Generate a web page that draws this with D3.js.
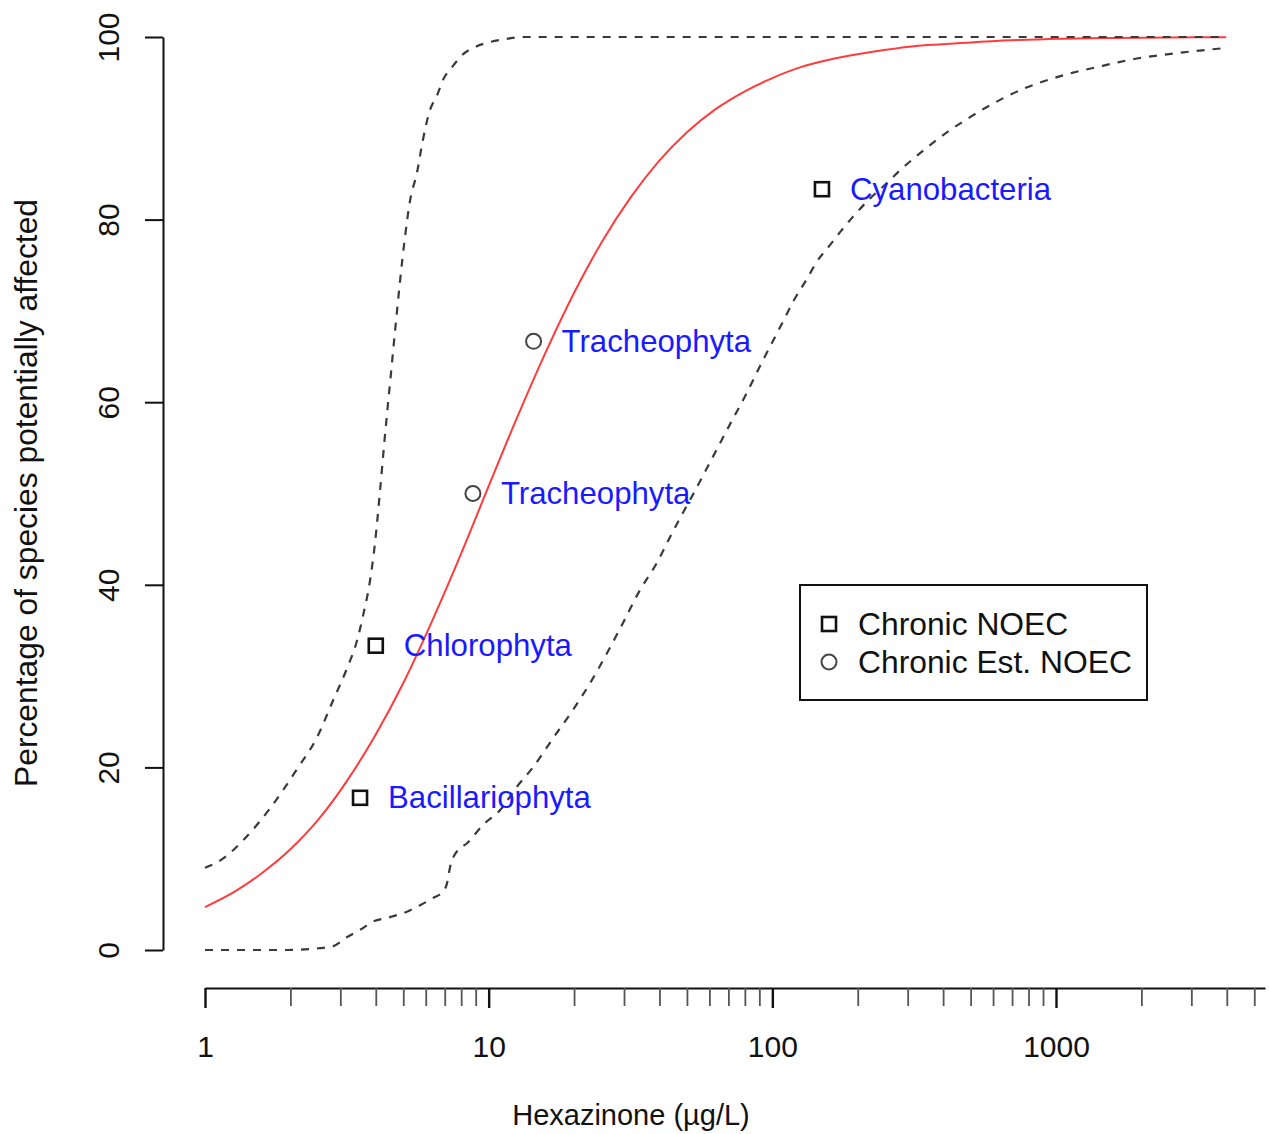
<!DOCTYPE html>
<html>
<head>
<meta charset="utf-8">
<script src="https://cdn.jsdelivr.net/npm/d3@7"></script>
<style>
  html, body { margin: 0; padding: 0; background: #fff; }
  svg { display: block; font-family: "Liberation Sans", Arial, sans-serif; }
</style>
</head>
<body>
<svg id="chart" width="1269" height="1134"></svg>
<script>
// ---- Data ----
// Species points: concentration (µg/L), percent affected, label, type
const pointX      = [3.52, 4.0, 8.8, 14.4, 149.6];
const pointY      = [16.67, 33.33, 50.0, 66.67, 83.33];
const pointLabels = ["Bacillariophyta", "Chlorophyta", "Tracheophyta", "Tracheophyta", "Cyanobacteria"];
const pointTypes  = ["Chronic NOEC", "Chronic NOEC", "Chronic Est. NOEC", "Chronic Est. NOEC", "Chronic NOEC"];

// Fitted SSD (red)
const fitX = [1, 1.259, 1.585, 1.995, 2.512, 3.162, 3.981, 5.012, 6.310, 7.943, 10, 12.59, 15.85, 19.95, 25.12, 31.62, 39.81, 50.12, 63.10, 79.43, 100, 125.9, 158.5, 199.5, 251.2, 316.2, 398.1, 501.2, 631.0, 794.3, 1000, 1585, 2512, 3981];
const fitY = [4.7, 6.3, 8.4, 11.0, 14.3, 18.5, 23.5, 29.3, 36.0, 43.2, 50.8, 58.3, 65.4, 71.9, 77.6, 82.4, 86.4, 89.6, 92.1, 94.0, 95.5, 96.7, 97.5, 98.1, 98.6, 99.0, 99.2, 99.4, 99.6, 99.7, 99.8, 99.9, 99.95, 99.97];

// Upper confidence limit (dashed)
const upperX = [1, 1.156, 1.361, 1.694, 2.109, 2.483, 2.825, 3.162, 3.436, 3.606, 3.819, 3.972, 4.140, 4.305, 4.487, 4.677, 4.864, 5.070, 5.284, 5.585, 5.861, 6.209, 6.577, 6.902, 7.430, 8.054, 8.954, 10.12, 11.59, 13.18, 3981];
const upperY = [9.0, 10.0, 12.0, 15.5, 19.8, 23.3, 27.3, 30.8, 33.9, 36.6, 40.5, 44.5, 50.3, 56.2, 62.0, 67.8, 73.1, 78.1, 82.1, 85.1, 88.7, 92.0, 93.6, 95.3, 96.7, 98.0, 98.9, 99.45, 99.8, 100, 100];

// Lower confidence limit (dashed)
const lowerX = [1, 1.327, 1.945, 2.541, 2.825, 3.162, 3.516, 3.908, 4.487, 5.152, 5.728, 6.368, 6.902, 7.129, 7.311, 7.727, 8.395, 9.550, 10.96, 12.59, 14.32, 16.87, 19.82, 22.75, 26.12, 29.72, 34.12, 39.17, 43.55, 48.42, 51.29, 60.26, 70.96, 79.98, 92.68, 100.5, 108.9, 118.3, 132.4, 143.6, 159.6, 173.0, 192.3, 220.8, 253.5, 281.8, 323.6, 368.1, 422.7, 485.3, 539.5, 599.8, 671.4, 763.8, 877.0, 1007, 1148, 1393, 1641, 1977, 2323, 2965, 3981];
const lowerY = [0, 0, 0, 0.2, 0.4, 1.4, 2.2, 3.1, 3.6, 4.2, 4.9, 5.7, 6.4, 7.3, 9.1, 10.8, 11.7, 13.7, 15.3, 17.9, 20.0, 23.2, 26.3, 29.2, 32.5, 35.8, 39.4, 42.4, 45.2, 47.9, 49.3, 53.4, 57.6, 60.6, 64.6, 66.7, 68.8, 71.0, 73.5, 75.4, 77.2, 78.6, 80.3, 82.3, 84.0, 85.4, 87.0, 88.4, 89.8, 91.0, 91.9, 92.7, 93.5, 94.3, 95.0, 95.6, 96.1, 96.7, 97.2, 97.7, 98.0, 98.4, 98.8];

// Axis ticks
const xMajorTicks = [1, 10, 100, 1000];
const xMinorTicks = [2,3,4,5,6,7,8,9, 20,30,40,50,60,70,80,90, 200,300,400,500,600,700,800,900, 2000,3000,4000,5000];
const yTicks = [0, 20, 40, 60, 80, 100];
const legendItems = ["Chronic NOEC", "Chronic Est. NOEC"];

const xTitle = "Hexazinone (\u00b5g/L)";
const yTitle = "Percentage of species potentially affected";

// ---- Drawing ----
const svg = d3.select("#chart");
const TICKFONT = 30;
const LABELFONT = 31.2;
const LEGENDFONT = 31.8;

const x = d3.scaleLog().domain([1, 1000]).range([205, 1056]);
const y = d3.scaleLinear().domain([0, 100]).range([950, 37]);
const xAxisScale = x.copy().domain([1, x.invert(1265)]).range([205, 1265]);

// Y axis
const yAxis = d3.axisLeft(y).tickValues(yTicks).tickSize(18).tickSizeOuter(0).tickFormat(d3.format("d"));
const gy = svg.append("g").attr("transform", "translate(163,0)").call(yAxis);
gy.select(".domain").attr("stroke", "#111").attr("stroke-width", 2);
gy.selectAll(".tick line").attr("stroke", "#111").attr("stroke-width", 2);
gy.selectAll(".tick text")
  .attr("x", null).attr("dy", null)
  .attr("transform", "translate(-55,0) rotate(-90)")
  .attr("text-anchor", "middle")
  .attr("dominant-baseline", "central")
  .attr("fill", "#111")
  .style("font-size", TICKFONT + "px")
  .style("font-family", "'Liberation Sans', Arial, sans-serif");

// X axis (minor ticks, then major ticks with labels)
const gxMinor = svg.append("g").attr("transform", "translate(0,988)")
  .call(d3.axisBottom(xAxisScale).tickValues(xMinorTicks).tickSize(18).tickSizeOuter(0).tickFormat(""));
gxMinor.select(".domain").attr("stroke", "#111").attr("stroke-width", 2);
gxMinor.selectAll(".tick line").attr("stroke", "#555").attr("stroke-width", 1.8);

const gxMajor = svg.append("g").attr("transform", "translate(0,988)")
  .call(d3.axisBottom(xAxisScale).tickValues(xMajorTicks).tickSize(20).tickSizeOuter(0).tickFormat(d3.format("d")));
gxMajor.select(".domain").remove();
gxMajor.selectAll(".tick line").attr("stroke", "#111").attr("stroke-width", 2.4);
gxMajor.selectAll(".tick text")
  .attr("y", 58).attr("dy", null)
  .attr("dominant-baseline", "central")
  .attr("fill", "#111")
  .style("font-size", TICKFONT + "px")
  .style("font-family", "'Liberation Sans', Arial, sans-serif");

// Axis titles
svg.append("text")
  .attr("x", 631).attr("y", 1115)
  .attr("text-anchor", "middle").attr("dominant-baseline", "central")
  .attr("fill", "#111").style("font-size", "29px")
  .text(xTitle);
svg.append("text")
  .attr("transform", "translate(26,493) rotate(-90)")
  .attr("text-anchor", "middle").attr("dominant-baseline", "central")
  .attr("fill", "#111").style("font-size", LEGENDFONT + "px")
  .text(yTitle);

// Curves
const line = d3.line().x(d => x(d[0])).y(d => y(d[1])).curve(d3.curveMonotoneX);
const fitData = fitX.map((v, i) => [v, fitY[i]]);
const upperData = upperX.map((v, i) => [v, upperY[i]]);
const lowerData = lowerX.map((v, i) => [v, lowerY[i]]);

svg.append("path").datum(fitData).attr("d", line)
  .attr("fill", "none").attr("stroke", "#ff3b3b").attr("stroke-width", 2);
[upperData, lowerData].forEach(dat => {
  svg.append("path").datum(dat).attr("d", line)
    .attr("fill", "none").attr("stroke", "#3a3a3a").attr("stroke-width", 2.2)
    .attr("stroke-dasharray", "8,8");
});

// Points
const pts = pointX.map((v, i) => ({x: v, y: pointY[i], label: pointLabels[i], type: pointTypes[i]}));
function drawSymbol(g, type, cx, cy) {
  if (type === "Chronic NOEC") {
    g.append("rect").attr("x", cx - 7).attr("y", cy - 7).attr("width", 14).attr("height", 14)
      .attr("fill", "none").attr("stroke", "#111").attr("stroke-width", 2.6);
  } else {
    g.append("circle").attr("cx", cx).attr("cy", cy).attr("r", 7.5)
      .attr("fill", "none").attr("stroke", "#444").attr("stroke-width", 2);
  }
}
const gp = svg.append("g");
pts.forEach(p => {
  drawSymbol(gp, p.type, x(p.x), y(p.y));
  gp.append("text")
    .attr("x", x(p.x) + 28).attr("y", y(p.y))
    .attr("dominant-baseline", "central")
    .attr("fill", "#1a1aff").style("font-size", LABELFONT + "px")
    .text(p.label);
});

// Legend
const lg = svg.append("g");
lg.append("rect").attr("x", 800).attr("y", 585).attr("width", 347).attr("height", 115)
  .attr("fill", "#fff").attr("stroke", "#111").attr("stroke-width", 2);
legendItems.forEach((name, i) => {
  const cy = 624 + i * 38;
  drawSymbol(lg, name, 829, cy);
  lg.append("text").attr("x", 858).attr("y", cy)
    .attr("dominant-baseline", "central")
    .attr("fill", "#111").style("font-size", LEGENDFONT + "px")
    .text(name);
});
</script>
</body>
</html>
